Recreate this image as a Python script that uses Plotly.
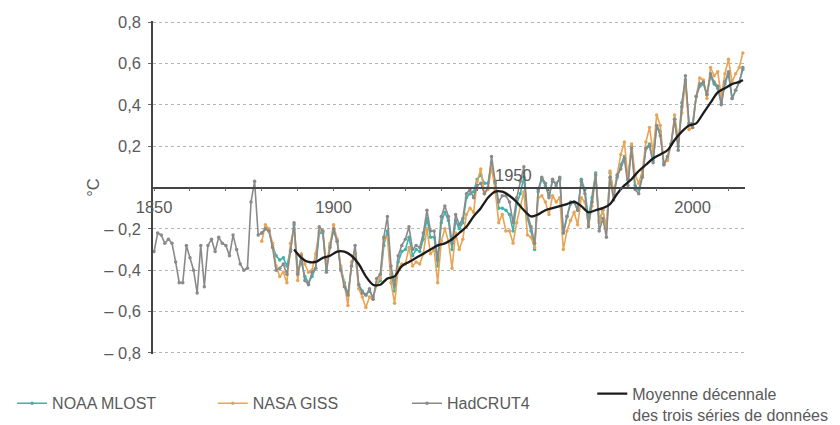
import plotly.graph_objects as go

# ---------------- data ----------------
years_had = list(range(1850, 2015))
hadcrut4 = [
    -0.31, -0.22, -0.23, -0.27, -0.25, -0.27, -0.36, -0.46, -0.46, -0.28,
    -0.34, -0.40, -0.51, -0.28, -0.48, -0.28, -0.25, -0.31, -0.24, -0.27,
    -0.28, -0.33, -0.23, -0.30, -0.37, -0.40, -0.39, -0.07, 0.03, -0.23,
    -0.22, -0.20, -0.21, -0.29, -0.40, -0.39, -0.37, -0.42, -0.31, -0.17,
    -0.42, -0.33, -0.45, -0.47, -0.41, -0.39, -0.19, -0.21, -0.41, -0.29,
    -0.20, -0.26, -0.40, -0.48, -0.52, -0.38, -0.28, -0.47, -0.51, -0.52,
    -0.49, -0.54, -0.44, -0.42, -0.24, -0.14, -0.38, -0.47, -0.33, -0.28,
    -0.25, -0.19, -0.30, -0.28, -0.29, -0.22, -0.11, -0.21, -0.21, -0.35,
    -0.14, -0.09, -0.14, -0.27, -0.13, -0.18, -0.15, -0.03, -0.01, -0.05,
    0.01, 0.02, -0.03, 0.00, 0.15, 0.03, -0.07, -0.04, -0.04, -0.07,
    -0.17, -0.05, 0.03, 0.10, -0.13, -0.19, -0.27, -0.01, 0.05, 0.02,
    -0.05, 0.04, 0.01, 0.05, -0.22, -0.14, -0.07, -0.07, -0.11, 0.03,
    -0.03, -0.19, -0.07, 0.06, -0.21, -0.15, -0.24, 0.05, -0.06, 0.06,
    0.09, 0.14, 0.01, 0.19, -0.01, -0.03, 0.05, 0.19, 0.20, 0.12,
    0.30, 0.25, 0.11, 0.15, 0.21, 0.33, 0.18, 0.39, 0.54, 0.31,
    0.29, 0.44, 0.50, 0.51, 0.45, 0.55, 0.51, 0.49, 0.40, 0.51,
    0.56, 0.43, 0.47, 0.51, 0.58,
]

years_80 = list(range(1880, 2015))
nasa_giss = [
    -0.26, -0.18, -0.20, -0.27, -0.38, -0.43, -0.41, -0.46, -0.27, -0.20,
    -0.45, -0.32, -0.37, -0.41, -0.40, -0.32, -0.21, -0.21, -0.37, -0.27,
    -0.18, -0.25, -0.38, -0.47, -0.57, -0.36, -0.32, -0.49, -0.53, -0.58,
    -0.53, -0.54, -0.46, -0.44, -0.25, -0.24, -0.46, -0.56, -0.39, -0.37,
    -0.37, -0.29, -0.38, -0.36, -0.37, -0.32, -0.20, -0.32, -0.30, -0.46,
    -0.26, -0.20, -0.26, -0.39, -0.22, -0.30, -0.25, -0.13, -0.10, -0.12,
    0.03, 0.09, -0.03, -0.01, 0.10, -0.01, -0.17, -0.13, -0.21, -0.21,
    -0.27, -0.17, -0.09, -0.02, -0.23, -0.24, -0.29, -0.05, -0.04, -0.07,
    -0.13, -0.04, -0.07, -0.05, -0.30, -0.21, -0.16, -0.12, -0.18, -0.05,
    -0.07, -0.18, -0.09, 0.06, -0.17, -0.11, -0.20, 0.08, -0.03, 0.06,
    0.16, 0.22, 0.04, 0.21, 0.06, 0.02, 0.08, 0.22, 0.29, 0.17,
    0.35, 0.30, 0.12, 0.13, 0.21, 0.35, 0.23, 0.36, 0.51, 0.28,
    0.29, 0.44, 0.53, 0.52, 0.43, 0.58, 0.54, 0.56, 0.44, 0.55,
    0.62, 0.51, 0.55, 0.58, 0.65,
]
noaa_mlost = [
    -0.22, -0.20, -0.21, -0.28, -0.33, -0.35, -0.34, -0.38, -0.30, -0.18,
    -0.41, -0.36, -0.43, -0.46, -0.43, -0.39, -0.22, -0.22, -0.40, -0.28,
    -0.21, -0.26, -0.39, -0.46, -0.52, -0.38, -0.32, -0.47, -0.50, -0.52,
    -0.50, -0.53, -0.47, -0.45, -0.28, -0.21, -0.42, -0.50, -0.36, -0.31,
    -0.30, -0.24, -0.33, -0.30, -0.31, -0.25, -0.15, -0.24, -0.24, -0.38,
    -0.17, -0.12, -0.16, -0.30, -0.16, -0.20, -0.17, -0.05, -0.03, -0.02,
    0.04, 0.06, 0.02, 0.02, 0.12, 0.02, -0.10, -0.10, -0.11, -0.13,
    -0.21, -0.08, -0.03, 0.05, -0.15, -0.21, -0.30, -0.02, 0.04, 0.01,
    -0.04, 0.03, 0.02, 0.04, -0.22, -0.14, -0.08, -0.07, -0.11, 0.04,
    -0.01, -0.15, -0.05, 0.07, -0.16, -0.11, -0.20, 0.07, -0.02, 0.05,
    0.11, 0.15, 0.04, 0.20, 0.01, -0.01, 0.06, 0.19, 0.21, 0.13,
    0.30, 0.27, 0.11, 0.14, 0.21, 0.33, 0.20, 0.41, 0.52, 0.31,
    0.31, 0.44, 0.49, 0.50, 0.45, 0.54, 0.50, 0.48, 0.41, 0.50,
    0.55, 0.43, 0.47, 0.51, 0.57,
]

years_mean = [1889, 1891, 1893, 1895, 1897, 1899, 1901, 1903, 1905, 1907,
              1909, 1911, 1913, 1915, 1917, 1919, 1921, 1923, 1925, 1927,
              1929, 1931, 1933, 1935, 1937, 1939, 1941, 1943, 1945, 1947,
              1949, 1951, 1953, 1955, 1957, 1959, 1961, 1963, 1965, 1967,
              1969, 1971, 1973, 1975, 1977, 1979, 1981, 1983, 1985, 1987,
              1989, 1991, 1993, 1995, 1997, 1999, 2001, 2003, 2005, 2007,
              2009, 2011, 2013, 2014]
decadal_mean = [-0.30, -0.34, -0.36, -0.36, -0.34, -0.33, -0.31, -0.31, -0.33, -0.37,
                -0.43, -0.47, -0.47, -0.44, -0.43, -0.38, -0.36, -0.34, -0.32, -0.30,
                -0.28, -0.27, -0.25, -0.22, -0.19, -0.14, -0.10, -0.05, -0.02, -0.02,
                -0.04, -0.07, -0.11, -0.14, -0.13, -0.11, -0.10, -0.09, -0.08, -0.07,
                -0.09, -0.12, -0.11, -0.10, -0.08, -0.03, 0.01, 0.04, 0.08, 0.11,
                0.14, 0.16, 0.18, 0.23, 0.27, 0.30, 0.31, 0.36, 0.41, 0.46,
                0.48, 0.50, 0.51, 0.52]

y_tick_vals = [0.8, 0.6, 0.4, 0.2, -0.2, -0.4, -0.6, -0.8]
y_tick_text = ["0,8", "0,6", "0,4", "0,2", "\u2013 0,2", "\u2013 0,4", "\u2013 0,6", "\u2013 0,8"]
x_tick_vals = list(range(1850, 2011, 10))
x_label_years = ["1850", "1900", "2000"]
x_label_above = "1950"

# ---------------- figure ----------------
FONT = "Liberation Sans, Arial, sans-serif"
TXT = "#5a5a5a"
TICK_SIZE = 16.5
LEG_SIZE = 16

fig = go.Figure()
fig.add_trace(go.Scatter(x=years_80, y=noaa_mlost, name="NOAA MLOST", mode="lines+markers",
                         legend="legend",
                         line=dict(color="#3fb2ad", width=1.6), marker=dict(size=3.5, color="#3fb2ad")))
fig.add_trace(go.Scatter(x=years_80, y=nasa_giss, name="NASA GISS", mode="lines+markers",
                         legend="legend2",
                         line=dict(color="#e8a455", width=1.6), marker=dict(size=3.5, color="#e8a455")))
fig.add_trace(go.Scatter(x=years_had, y=hadcrut4, name="HadCRUT4", mode="lines+markers",
                         legend="legend3",
                         line=dict(color="#8a8a8a", width=1.6), marker=dict(size=3.5, color="#8a8a8a")))
fig.add_trace(go.Scatter(x=years_mean, y=decadal_mean,
                         name="Moyenne décennale<br>des trois séries de données", mode="lines",
                         legend="legend4",
                         line=dict(color="#1c1c1c", width=2.3, shape="spline", smoothing=0.8)))

ticktext_x = [str(v) if str(v) in x_label_years else "" for v in x_tick_vals]

leg_common = dict(orientation="h", xref="paper", yref="paper", xanchor="left", yanchor="top",
                  font=dict(size=LEG_SIZE, color=TXT), itemwidth=30, valign="top",
                  bgcolor="rgba(0,0,0,0)")

fig.update_layout(
    width=840, height=425,
    margin=dict(l=145, r=103, t=13, b=79, autoexpand=False),
    paper_bgcolor="white", plot_bgcolor="white",
    font=dict(family=FONT, size=TICK_SIZE, color=TXT),
    showlegend=True,
    legend=dict(leg_common, x=-0.238, y=-0.097),
    legend2=dict(leg_common, x=0.101, y=-0.097),
    legend3=dict(leg_common, x=0.429, y=-0.097),
    legend4=dict(leg_common, x=0.742, y=-0.068),
    xaxis=dict(range=[1849.7, 2014.6], anchor="free", position=0.5, automargin=False,
               showline=True, linecolor="#444444", linewidth=1.5,
               tickvals=x_tick_vals, ticktext=ticktext_x,
               ticks="outside", ticklen=3, tickcolor="#666666", ticklabelstandoff=2,
               showgrid=False, zeroline=False, tickfont=dict(size=TICK_SIZE, color=TXT)),
    yaxis=dict(range=[-0.805, 0.805], tickvals=y_tick_vals, ticktext=y_tick_text,
               automargin=False,
               showline=True, linecolor="#444444", linewidth=1.5,
               ticks="outside", ticklen=3, tickcolor="#666666", ticklabelstandoff=4,
               showgrid=True, gridcolor="#b5b5b5", griddash="dot", gridwidth=1,
               zeroline=False, tickfont=dict(size=TICK_SIZE, color=TXT),
               title=dict(text="°C", standoff=0, font=dict(size=TICK_SIZE, color=TXT))),
)

fig.add_annotation(x=1950, y=0, xref="x", yref="y", text=x_label_above, showarrow=False,
                   yanchor="bottom", yshift=2, font=dict(size=TICK_SIZE, color=TXT))

fig.write_html("out.html")
